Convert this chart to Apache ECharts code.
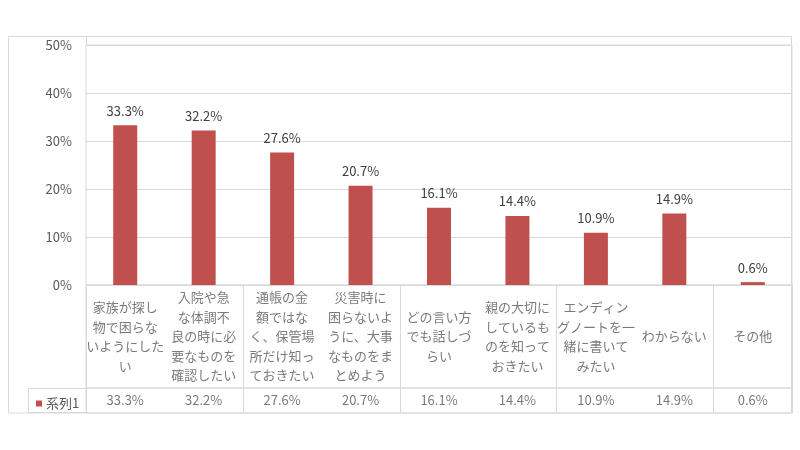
<!DOCTYPE html>
<html><head><meta charset="utf-8">
<script src="https://cdn.jsdelivr.net/npm/echarts@6/dist/echarts.min.js"></script>
<style>html,body{margin:0;padding:0;background:#fff}#c{width:800px;height:450px}</style>
</head><body><div id="c"></div>
<script>
const categories = [
  '家族が探し\n物で困らな\nいようにした\nい',
  '入院や急\nな体調不\n良の時に必\n要なものを\n確認したい',
  '通帳の金\n額ではな\nく、保管場\n所だけ知っ\nておきたい',
  '災害時に\n困らないよ\nうに、大事\nなものをま\nとめよう',
  'どの言い方\nでも話しづ\nらい',
  '親の大切に\nしているも\nのを知って\nおきたい',
  'エンディン\nグノートを一\n緒に書いて\nみたい',
  'わからない',
  'その他'
];
const values = [33.3, 32.2, 27.6, 20.7, 16.1, 14.4, 10.9, 14.9, 0.6];
const seriesName = '系列1';
const yMin = 0, yMax = 50, yStep = 10;

const FONT = '"Noto Sans CJK JP", "Noto Sans", sans-serif';
const LINE = '#d9d9d9';
const TXT = '#595959';
const RED = '#C0504D';

const chart = echarts.init(document.getElementById('c'), null, {renderer: 'canvas'});
chart.setOption({
  animation: false,
  textStyle: {fontFamily: FONT},
  legend: {
    data: [seriesName], left: 31, top: 392, icon: 'rect',
    itemWidth: 6, itemHeight: 6, itemGap: 4,
    textStyle: {fontFamily: FONT, fontSize: 13, color: TXT, padding: [0,0,0,-1]},
    selectedMode: false
  },
  grid: [
    {left: 86, right: 8, top: 45, height: 240, show: true, borderColor: LINE, borderWidth: 1},
    {left: 86, right: 8, top: 285, height: 103, show: true, borderColor: LINE, borderWidth: 1},
    {left: 86, right: 8, top: 388, height: 25, show: true, borderColor: LINE, borderWidth: 1}
  ],
  xAxis: [
    {type: 'category', gridIndex: 0, data: categories, axisLine: {show: true, lineStyle: {color: LINE}},
     axisTick: {show: false}, axisLabel: {show: false}, splitLine: {show: false}},
    {type: 'category', gridIndex: 1, data: categories, axisLine: {show: false},
     axisTick: {show: false}, axisLabel: {show: false}, splitLine: {show: true, lineStyle: {color: LINE}}},
    {type: 'category', gridIndex: 2, data: categories, axisLine: {show: false},
     axisTick: {show: false}, axisLabel: {show: false}, splitLine: {show: true, lineStyle: {color: LINE}}}
  ],
  yAxis: [
    {type: 'value', gridIndex: 0, min: yMin, max: yMax, interval: yStep,
     axisLine: {show: false}, axisTick: {show: false},
     axisLabel: {formatter: '{value}%', color: TXT, fontSize: 13, margin: 14, fontFamily: FONT},
     splitLine: {show: true, lineStyle: {color: LINE}}},
    {type: 'value', gridIndex: 1, min: 0, max: 1, show: false},
    {type: 'value', gridIndex: 2, min: 0, max: 1, show: false}
  ],
  graphic: [
    {type: 'rect', shape: {x: 8.5, y: 36.5, width: 783, height: 376.5}, style: {fill: 'none', stroke: LINE, lineWidth: 1}, z: 0},
    {type: 'line', shape: {x1: 86.5, y1: 36.5, x2: 86.5, y2: 45}, style: {stroke: LINE, lineWidth: 1}},
    {type: 'line', shape: {x1: 791.5, y1: 36.5, x2: 791.5, y2: 45}, style: {stroke: LINE, lineWidth: 1}},
    {type: 'polyline', shape: {points: [[86, 388.5], [28.5, 388.5], [28.5, 412.5], [86, 412.5]]}, style: {fill: 'none', stroke: LINE, lineWidth: 1}}
  ],
  series: [
    {name: seriesName, type: 'bar', xAxisIndex: 0, yAxisIndex: 0, data: values, barWidth: 24,
     itemStyle: {color: RED},
     label: {show: true, position: 'top', distance: 8, formatter: p => p.value.toFixed(1) + '%',
             color: '#404040', fontSize: 13, fontFamily: FONT}},
    {name: 'cats', type: 'scatter', xAxisIndex: 1, yAxisIndex: 1, symbolSize: 1,
     itemStyle: {color: 'rgba(0,0,0,0)'}, silent: true,
     data: categories.map((c, i) => [i, 0.5]),
     label: {show: true, position: 'inside', formatter: p => categories[p.dataIndex],
             color: TXT, fontSize: 13, lineHeight: 19.5, align: 'center', verticalAlign: 'middle', fontFamily: FONT}},
    {name: 'vals', type: 'scatter', xAxisIndex: 2, yAxisIndex: 2, symbolSize: 1,
     itemStyle: {color: 'rgba(0,0,0,0)'}, silent: true,
     data: values.map((v, i) => [i, 0.5]),
     label: {show: true, position: 'inside', formatter: p => values[p.dataIndex].toFixed(1) + '%',
             color: TXT, fontSize: 13, align: 'center', verticalAlign: 'middle', fontFamily: FONT}}
  ]
});
</script></body></html>
